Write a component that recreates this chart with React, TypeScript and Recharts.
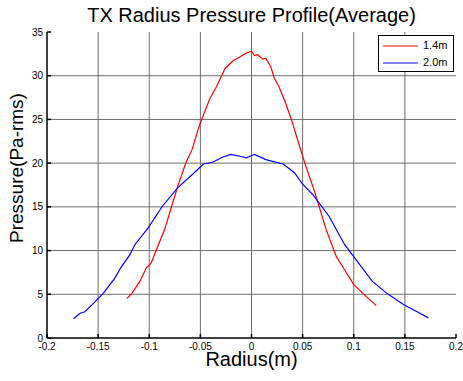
import React from "react";
import {
  Line,
  LineChart,
  ReferenceLine,
  XAxis,
  YAxis,
} from "recharts";

const FONT = '"Liberation Sans", Arial, sans-serif';

const radiusTicks = [-0.2, -0.15, -0.1, -0.05, 0, 0.05, 0.1, 0.15, 0.2];
const pressureTicks = [0, 5, 10, 15, 20, 25, 30, 35];

// 1.4m series
const r14 = [
  -0.122, -0.117, -0.109, -0.103, -0.098, -0.093, -0.085, -0.078, -0.072, -0.064,
  -0.058, -0.051, -0.041, -0.034, -0.026, -0.018, -0.012, -0.005, 0, 0.003,
  0.006, 0.011, 0.014, 0.019, 0.022, 0.027, 0.033, 0.039, 0.045, 0.05,
  0.053, 0.061, 0.066, 0.073, 0.083, 0.091, 0.1, 0.109, 0.122,
];
const p14 = [
  4.5, 5.1, 6.5, 8.0, 8.6, 10.1, 12.4, 15.1, 17.4, 20.1,
  21.6, 24.3, 27.3, 28.8, 30.8, 31.7, 32.1, 32.6, 32.8, 32.3,
  32.4, 31.9, 32.0, 31.0, 29.8, 28.7, 27.0, 25.0, 22.7, 20.8,
  19.7, 17.0, 15.1, 12.4, 9.3, 7.8, 6.1, 5.1, 3.7,
];

// 2.0m series
const r20 = [
  -0.174, -0.168, -0.163, -0.155, -0.15, -0.145, -0.134, -0.127, -0.119, -0.114,
  -0.101, -0.087, -0.072, -0.056, -0.047, -0.038, -0.028, -0.02, -0.008, -0.005,
  0.001, 0.003, 0.014, 0.031, 0.042, 0.05, 0.06, 0.076, 0.091, 0.102,
  0.118, 0.133, 0.149, 0.162, 0.173,
];
const p20 = [
  2.2, 2.8, 3.0, 3.9, 4.5, 5.1, 6.8, 8.2, 9.5, 10.7,
  12.6, 15.1, 17.2, 18.9, 19.9, 20.1, 20.7, 21.0, 20.7, 20.6,
  20.9, 21.0, 20.4, 19.9, 18.9, 17.6, 16.4, 13.9, 10.7, 9.0,
  6.5, 5.05, 3.8, 3.0, 2.3,
];

const series = [
  { name: "1.4m", color: "#ff0000", data: r14.map((x, i) => ({ x, y: p14[i] })) },
  { name: "2.0m", color: "#0000ff", data: r20.map((x, i) => ({ x, y: p20[i] })) },
];

const GRID = "#6e6e6e";

function LegendBox() {
  return (
    <div
      style={{
        position: "absolute",
        left: 378,
        top: 35,
        border: "1px solid #000",
        background: "#fff",
        width: 74,
        height: 35,
        fontFamily: FONT,
        fontSize: 11,
      }}
    >
      {series.map((s) => (
        <div key={s.name} style={{ display: "flex", alignItems: "center", height: 16, marginTop: 1 }}>
          <svg width={44} height={16}>
            <line x1={4} x2={39} y1={9} y2={9} stroke={s.color} strokeWidth={1.2} />
          </svg>
          <span>{s.name}</span>
        </div>
      ))}
    </div>
  );
}

function YLabel(props: any) {
  const vb = props.viewBox;
  const x = vb.x + 16;
  const y = vb.y + vb.height / 2 - 17;
  return (
    <text
      x={x}
      y={y}
      transform={`rotate(-90, ${x}, ${y})`}
      textAnchor="middle"
      dominantBaseline="central"
      fontSize={19}
      fontFamily={FONT}
      fill="#000"
    >
      Pressure(Pa-rms)
    </text>
  );
}

export default function App() {
  return (
    <div style={{ position: "absolute", left: 0, top: 0, width: 463, height: 381, background: "#fff" }}>
      <div
        style={{
          position: "absolute",
          left: 47,
          width: 409,
          top: 5,
          textAlign: "center",
          fontFamily: FONT,
          fontSize: 20,
          lineHeight: "20px",
        }}
      >
        TX Radius Pressure Profile(Average)
      </div>
      <LineChart width={463} height={381} margin={{ top: 32, right: 7, bottom: 0, left: 0 }}>
        <XAxis
          type="number"
          dataKey="x"
          domain={[-0.2, 0.2]}
          ticks={radiusTicks}
          allowDataOverflow
          height={43}
          stroke="#000"
          strokeWidth={1.5}
          tickSize={-4}
          tickMargin={9}
          tick={{ fontSize: 10, fill: "#000", fontFamily: FONT }}
          label={{ value: "Radius(m)", position: "insideBottom", offset: 15, fontSize: 20, fill: "#000", fontFamily: FONT }}
        />
        <XAxis
          xAxisId="top"
          orientation="top"
          type="number"
          dataKey="x"
          domain={[-0.2, 0.2]}
          ticks={radiusTicks}
          height={0}
          stroke="#000"
          strokeWidth={1.5}
          tickSize={-4}
          tick={false}
        />
        <YAxis
          type="number"
          domain={[0, 35]}
          ticks={pressureTicks}
          width={47}
          stroke="#000"
          strokeWidth={1.5}
          tickSize={-4}
          tickMargin={8}
          tick={{ fontSize: 10, fill: "#000", fontFamily: FONT }}
          label={<YLabel />}
        />
        <YAxis
          yAxisId="right"
          orientation="right"
          type="number"
          domain={[0, 35]}
          ticks={pressureTicks}
          width={0}
          stroke="#000"
          strokeWidth={1.5}
          tickSize={-4}
          tick={false}
        />
        {radiusTicks.slice(1, -1).map((t) => (
          <ReferenceLine key={`vx${t}`} x={t} stroke={GRID} strokeWidth={1} />
        ))}
        {pressureTicks.slice(1, -1).map((t) => (
          <ReferenceLine key={`hy${t}`} y={t} stroke={GRID} strokeWidth={1} />
        ))}
        {series.map((s) => (
          <Line
            key={s.name}
            data={s.data}
            dataKey="y"
            name={s.name}
            type="linear"
            stroke={s.color}
            strokeWidth={1.2}
            dot={false}
            activeDot={false}
            isAnimationActive={false}
          />
        ))}
      </LineChart>
      <LegendBox />
    </div>
  );
}
